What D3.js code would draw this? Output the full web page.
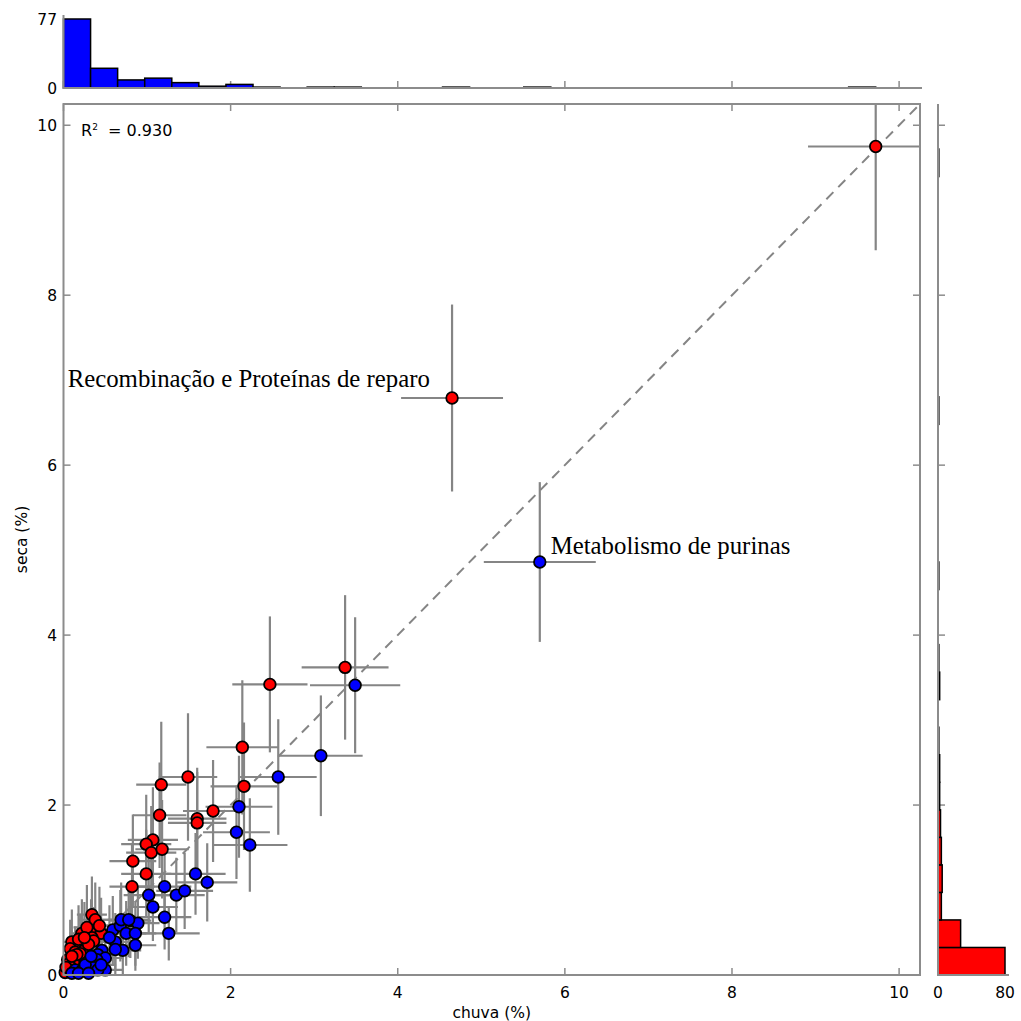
<!DOCTYPE html>
<html>
<head>
<meta charset="utf-8">
<script src="https://cdn.jsdelivr.net/npm/d3@7"></script>
<style>
  body { margin: 0; background: #fff; }
  text { font-family: "DejaVu Sans", sans-serif; fill: #000; }
  .frame { fill: none; stroke: #8c8c8c; stroke-width: 2; }
  .tick-mark { stroke: #8c8c8c; stroke-width: 1.5; }
  .err { stroke: #858585; stroke-width: 2.2; }
  .dot { stroke: #000; stroke-width: 1.8; }
  .bar { stroke: #000; stroke-width: 1.5; }
  .note { font-family: "Liberation Serif", "Times New Roman", serif; font-size: 24.8px; }
</style>
</head>
<body>
<div id="chart-container" style="width:1021px;height:1021px;"></div>
<script>

// Scatter values (%): chuva on x, seca on y, with their errors.
const chuva    = [9.72, 4.65, 5.70, 3.37, 3.49, 2.47, 3.08, 2.14, 2.57, 1.49, 2.16, 1.17, 2.10, 1.15, 1.79, 1.60, 1.60, 2.07, 2.23,
                  1.07, 0.99, 1.05, 1.18, 0.83, 0.99, 0.82, 1.58, 1.72, 1.21, 1.02, 1.35, 1.45, 1.07, 1.21, 1.26,
                  0.34, 0.38, 0.22, 0.33, 0.45, 0.34, 0.10, 0.20, 0.08, 0.14, 0.26, 0.24, 0.15, 0.05, 0.20, 0.12, 0.04, 0.08, 0.36, 0.16, 0.02, 0.06,
                  0.28, 0.18, 0.10, 0.30, 0.03, 0.25, 0.43,
                  0.59, 0.68, 0.80, 0.89, 0.75, 0.86, 0.62, 0.86, 0.71, 0.46, 0.41, 0.50, 0.40, 0.29, 0.35, 0.50, 0.14, 0.22, 0.41, 0.26, 0.10, 0.18, 0.30,
                  0.69, 0.78, 0.55, 0.33, 0.45, 0.62];
const seca     = [9.75, 6.79, 4.86, 3.62, 3.41, 3.42, 2.58, 2.68, 2.33, 2.33, 2.22, 2.24, 1.98, 1.88, 1.93, 1.84, 1.79, 1.68, 1.53,
                  1.59, 1.54, 1.44, 1.48, 1.34, 1.19, 1.04, 1.19, 1.09, 1.04, 0.94, 0.94, 0.99, 0.80, 0.68, 0.49,
                  0.71, 0.65, 0.49, 0.49, 0.49, 0.44, 0.39, 0.36, 0.31, 0.27, 0.31, 0.28, 0.21, 0.18, 0.25, 0.15, 0.06, 0.10, 0.40, 0.24, 0.03, 0.13,
                  0.56, 0.42, 0.22, 0.36, 0.09, 0.44, 0.58,
                  0.53, 0.58, 0.64, 0.61, 0.49, 0.49, 0.39, 0.35, 0.29, 0.29, 0.24, 0.20, 0.18, 0.15, 0.09, 0.06, 0.06, 0.05, 0.06, 0.12, 0.02, 0.02, 0.02,
                  0.65, 0.65, 0.44, 0.22, 0.12, 0.30];
const chuvaErr = [0.81, 0.61, 0.67, 0.52, 0.54, 0.45, 0.50, 0.43, 0.46, 0.35, 0.40, 0.30, 0.40, 0.32, 0.36, 0.35, 0.35, 0.40, 0.45,
                  0.30, 0.30, 0.30, 0.32, 0.28, 0.30, 0.27, 0.36, 0.36, 0.32, 0.30, 0.34, 0.34, 0.30, 0.32, 0.37,
                  0.18, 0.20, 0.15, 0.18, 0.20, 0.18, 0.10, 0.15, 0.10, 0.12, 0.15, 0.15, 0.12, 0.08, 0.14, 0.10, 0.06, 0.08, 0.18, 0.12, 0.05, 0.07,
                  0.16, 0.12, 0.08, 0.16, 0.05, 0.15, 0.20,
                  0.22, 0.24, 0.25, 0.26, 0.24, 0.25, 0.22, 0.25, 0.22, 0.20, 0.18, 0.22, 0.18, 0.15, 0.17, 0.20, 0.10, 0.14, 0.18, 0.14, 0.08, 0.12, 0.15,
                  0.24, 0.25, 0.22, 0.16, 0.18, 0.22];
const secaErr  = [1.22, 1.10, 0.94, 0.85, 0.80, 0.80, 0.71, 0.79, 0.68, 0.75, 0.75, 0.74, 0.60, 0.62, 0.60, 0.60, 0.60, 0.55, 0.55,
                  0.62, 0.58, 0.55, 0.58, 0.55, 0.52, 0.50, 0.48, 0.46, 0.45, 0.44, 0.44, 0.45, 0.40, 0.38, 0.32,
                  0.45, 0.44, 0.40, 0.40, 0.42, 0.40, 0.38, 0.36, 0.34, 0.30, 0.34, 0.30, 0.28, 0.24, 0.30, 0.22, 0.12, 0.16, 0.40, 0.28, 0.08, 0.20,
                  0.50, 0.40, 0.26, 0.36, 0.14, 0.42, 0.46,
                  0.40, 0.42, 0.44, 0.42, 0.38, 0.38, 0.34, 0.30, 0.28, 0.28, 0.25, 0.22, 0.22, 0.18, 0.14, 0.10, 0.10, 0.08, 0.10, 0.16, 0.05, 0.05, 0.05,
                  0.44, 0.44, 0.38, 0.26, 0.16, 0.32];

// Histogram counts, bins of 0.324 % starting at 0.
const chuvaCounts = [77, 22, 9, 11, 6, 2, 4, 1, 0, 1, 1, 0, 0, 0, 1, 0, 0, 1, 0, 0, 0, 0, 0, 0, 0, 0, 0, 0, 0, 1, 0, 0];
const secaCounts  = [80, 27, 4, 5, 4, 3, 2, 2, 1, 0, 2, 1, 0, 0, 1, 0, 0, 0, 0, 0, 1, 0, 0, 0, 0, 0, 0, 0, 0, 1, 0, 0];
const binWidth = 0.324;

// Tick labels.
const axisTicks = [0, 2, 4, 6, 8, 10];
const chuvaHistTicks = [0, 77];
const secaHistTicks = [0, 80];

// Annotations and fit.
const notes = [
  { text: "Recombinação e Proteínas de reparo", x: 0.05, y: 6.92 },
  { text: "Metabolismo de purinas", x: 5.83, y: 4.96 }
];
const r2 = "0.930";

let margin, xScale, yScale, topScale, rightScale, svg, plot;

function initChart() {

  // Sizing variables.
  margin = { top: 104, right: 920, bottom: 975, left: 63.5 };

  svg = d3.select("#chart-container").append("svg")
    .attr("width", 1021)
    .attr("height", 1021);

  // Scales.
  xScale = d3.scaleLinear().domain([0, 10.25]).range([margin.left, margin.right]);
  yScale = d3.scaleLinear().domain([0, 10.25]).range([margin.bottom, margin.top]);
  topScale = d3.scaleLinear().domain([0, 77]).range([88, 19]);
  rightScale = d3.scaleLinear().domain([0, 80]).range([938, 1005]);

  svg.append("clipPath").attr("id", "plot-clip")
    .append("rect")
      .attr("x", margin.left).attr("y", margin.top)
      .attr("width", margin.right - margin.left)
      .attr("height", margin.bottom - margin.top);

  plot = svg.append("g").attr("clip-path", "url(#plot-clip)");

  const pts = chuva.map((c, i) => ({ x: c, y: seca[i], ex: chuvaErr[i], ey: secaErr[i] }));

  // Identity line.
  plot.append("line")
    .attr("x1", xScale(0)).attr("y1", yScale(0))
    .attr("x2", xScale(10.25)).attr("y2", yScale(10.25))
    .attr("stroke", "#858585")
    .attr("stroke-width", 2)
    .attr("stroke-dasharray", "10,7");

  // Error bars.
  const errs = plot.append("g").attr("id", "chart-errors");
  errs.selectAll(".err-x")
    .data(pts)
    .enter()
    .append("line")
      .classed("err", true)
      .attr("x1", d => xScale(d.x - d.ex))
      .attr("x2", d => xScale(d.x + d.ex))
      .attr("y1", d => yScale(d.y))
      .attr("y2", d => yScale(d.y));
  errs.selectAll(".err-y")
    .data(pts)
    .enter()
    .append("line")
      .classed("err", true)
      .attr("x1", d => xScale(d.x))
      .attr("x2", d => xScale(d.x))
      .attr("y1", d => yScale(d.y - d.ey))
      .attr("y2", d => yScale(d.y + d.ey));

  // Dots, red first then blue.
  const ordered = pts.filter(d => d.y > d.x).concat(pts.filter(d => d.y <= d.x));
  svg.append("g").attr("id", "chart-dots")
    .selectAll(".dot")
    .data(ordered)
    .enter()
    .append("circle")
      .classed("dot", true)
      .attr("cx", d => xScale(d.x))
      .attr("cy", d => yScale(d.y))
      .attr("r", 5.8)
      .attr("fill", d => d.y > d.x ? "#ff0000" : "#0000ff");

  // Main frame and ticks.
  svg.append("rect").classed("frame", true)
    .attr("x", margin.left).attr("y", margin.top)
    .attr("width", margin.right - margin.left)
    .attr("height", margin.bottom - margin.top);

  const ticks = svg.append("g");
  axisTicks.forEach(t => {
    ticks.append("line").classed("tick-mark", true)
      .attr("x1", xScale(t)).attr("x2", xScale(t)).attr("y1", margin.bottom).attr("y2", margin.bottom - 7);
    ticks.append("line").classed("tick-mark", true)
      .attr("x1", xScale(t)).attr("x2", xScale(t)).attr("y1", margin.top).attr("y2", margin.top + 7);
    ticks.append("line").classed("tick-mark", true)
      .attr("x1", margin.left).attr("x2", margin.left + 7).attr("y1", yScale(t)).attr("y2", yScale(t));
    ticks.append("line").classed("tick-mark", true)
      .attr("x1", margin.right).attr("x2", margin.right - 7).attr("y1", yScale(t)).attr("y2", yScale(t));
    // Top histogram and right histogram ticks.
    ticks.append("line").classed("tick-mark", true)
      .attr("x1", xScale(t)).attr("x2", xScale(t)).attr("y1", 88).attr("y2", 81);
    ticks.append("line").classed("tick-mark", true)
      .attr("x1", 938).attr("x2", 945).attr("y1", yScale(t)).attr("y2", yScale(t));

    ticks.append("text")
      .attr("x", xScale(t)).attr("y", 998)
      .attr("text-anchor", "middle")
      .style("font-size", "15.5px")
      .text(t);
    ticks.append("text")
      .attr("x", 57).attr("y", yScale(t) + 5.5)
      .attr("text-anchor", "end")
      .style("font-size", "15.5px")
      .text(t);
  });

  // Axis labels.
  svg.append("text")
    .attr("x", (margin.left + margin.right) / 2).attr("y", 1018)
    .attr("text-anchor", "middle")
    .style("font-size", "15.5px")
    .text("chuva (%)");
  svg.append("text")
    .attr("transform", `translate(27 ${ (margin.top + margin.bottom) / 2 }) rotate(-90)`)
    .attr("text-anchor", "middle")
    .style("font-size", "15.5px")
    .text("seca (%)");

  // R squared.
  const rt = svg.append("text")
    .attr("x", 81).attr("y", 136)
    .style("font-size", "16px");
  rt.append("tspan").text("R");
  rt.append("tspan").attr("dy", -6).style("font-size", "9px").text("2");
  rt.append("tspan").attr("dy", 6).text("  = " + r2).attr("xml:space", "preserve");

  // Annotations.
  svg.selectAll(".note")
    .data(notes)
    .enter()
    .append("text")
      .classed("note", true)
      .attr("x", d => xScale(d.x))
      .attr("y", d => yScale(d.y))
      .text(d => d.text);

  // Top histogram (chuva).
  const topHist = svg.append("g").attr("id", "top-hist");
  topHist.selectAll(".bar")
    .data(chuvaCounts.map((c, i) => ({ i: i, c: c })).filter(d => d.c > 0))
    .enter()
    .append("rect")
      .classed("bar", true)
      .attr("x", d => xScale(d.i * binWidth))
      .attr("width", d => xScale((d.i + 1) * binWidth) - xScale(d.i * binWidth))
      .attr("y", d => topScale(d.c))
      .attr("height", d => topScale(0) - topScale(d.c))
      .attr("fill", "#0000ff");
  topHist.append("path").classed("frame", true)
    .attr("d", `M${ margin.left },15V${ topScale(0) }H${ margin.right + 2 }`);
  chuvaHistTicks.forEach(t => {
    topHist.append("text")
      .attr("x", 57).attr("y", topScale(t) + 5.5)
      .attr("text-anchor", "end")
      .style("font-size", "15.5px")
      .text(t);
  });

  // Right histogram (seca).
  const rightHist = svg.append("g").attr("id", "right-hist");
  rightHist.selectAll(".bar")
    .data(secaCounts.map((c, i) => ({ i: i, c: c })).filter(d => d.c > 0))
    .enter()
    .append("rect")
      .classed("bar", true)
      .attr("x", rightScale(0))
      .attr("width", d => rightScale(d.c) - rightScale(0))
      .attr("y", d => yScale((d.i + 1) * binWidth))
      .attr("height", d => yScale(d.i * binWidth) - yScale((d.i + 1) * binWidth))
      .attr("fill", "#ff0000");
  rightHist.append("path").classed("frame", true)
    .attr("d", `M${ rightScale(0) },${ margin.top }V${ margin.bottom }H1009`);
  secaHistTicks.forEach(t => {
    rightHist.append("text")
      .attr("x", rightScale(t)).attr("y", 998)
      .attr("text-anchor", "middle")
      .style("font-size", "15.5px")
      .text(t);
  });
}

initChart();
</script>
</body>
</html>
